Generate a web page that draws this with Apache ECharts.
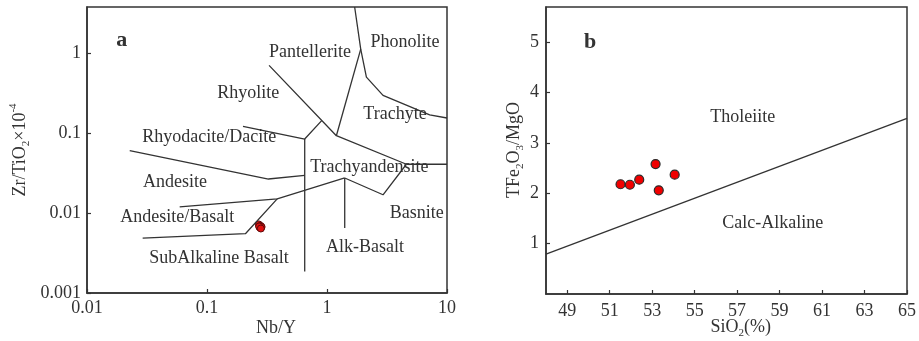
<!DOCTYPE html>
<html><head><meta charset="utf-8">
<script src="https://cdn.jsdelivr.net/npm/echarts@6/dist/echarts.min.js"></script>
<style>html,body{margin:0;padding:0;background:#fff}#c{width:919px;height:341px}</style>
</head><body><div id="c"></div>
<script>
// ---------- tick labels ----------
const nbYTicks = [0.01, 0.1, 1, 10];
const zrTiTicks = [0.001, 0.01, 0.1, 1];
const sio2Ticks = [49, 51, 53, 55, 57, 59, 61, 63, 65];
const ratioTicks = [1, 2, 3, 4, 5];

// ---------- panel a: field boundaries [Nb/Y, Zr/TiO2*1e-4] ----------
const lineA = [[1.70, 3.76], [1.91, 1.12], [2.13, 0.50], [2.93, 0.295], [7.17, 0.169], [10, 0.154]];
const lineB = [[1.91, 1.12], [1.197, 0.0925]];
const lineG = [[0.329, 0.70], [1.197, 0.0925], [4.59, 0.0407], [2.93, 0.0169], [1.405, 0.0274]];
const lineH = [[4.59, 0.0407], [10, 0.0407]];
const lineC = [[0.0592, 0.0119], [0.3846, 0.0150], [1.405, 0.0274]];
const lineD = [[0.3846, 0.0150], [0.209, 0.00551], [0.0291, 0.00484]];
const lineE = [[0.0227, 0.0601], [0.325, 0.0266], [0.652, 0.0295]];
const lineF = [[0.1995, 0.121], [0.652, 0.0841], [0.903, 0.143]];
const lineV1 = [[0.652, 0.0841], [0.652, 0.00186]];
const lineV2 = [[1.405, 0.0274], [1.405, 0.0065]];
const samplesA = [[0.270, 0.0072], [0.280, 0.0069], [0.275, 0.0066], [0.285, 0.0067], [0.272, 0.0068], [0.281, 0.0064]];

// ---------- panel b ----------
const boundaryB = [[48, 0.79], [65, 3.49]];
const samplesB = [[51.51, 2.18], [51.95, 2.17], [52.39, 2.27], [53.16, 2.58], [53.31, 2.06], [54.06, 2.37]];

const FONT = "'Liberation Serif','Times New Roman',serif";
const INK = '#333';

const chart = echarts.init(document.getElementById('c'));

function axisBase(extra) {
  return Object.assign({
    axisLine: { show: true, lineStyle: { color: INK, width: 1.5 } },
    axisTick: { show: true, inside: true, length: 4, lineStyle: { color: INK, width: 1.2 } },
    splitLine: { show: false },
    axisLabel: { color: INK, fontSize: 18, fontFamily: FONT }
  }, extra);
}

const boundaryStyle = { color: INK, width: 1.3 };
function bLine(data) {
  return { type: 'line', xAxisIndex: 0, yAxisIndex: 0, data: data, symbol: 'none', silent: true,
           lineStyle: boundaryStyle, animation: false };
}

const sub = { fontSize: 11, fontFamily: FONT, fill: INK, color: INK, verticalAlign: 'bottom', lineHeight: 12 };
const sup = { fontSize: 11, fontFamily: FONT, fill: INK, color: INK, verticalAlign: 'top', lineHeight: 12 };
const nrm = { fontSize: 18, fontFamily: FONT, fill: INK, color: INK, lineHeight: 24 };

function label(text, x, y, size, bold) {
  return { type: 'text', x: x, y: y, silent: true,
    style: { text: text, fill: INK, font: (bold ? 'bold ' : '') + size + 'px ' + FONT, align: 'center', verticalAlign: 'middle' } };
}

const option = {
  animation: false,
  backgroundColor: '#fff',
  grid: [
    { left: 87, top: 7, width: 360, height: 286, show: true, borderColor: INK, borderWidth: 1.5 },
    { left: 546, top: 7, width: 362, height: 287, show: true, borderColor: INK, borderWidth: 1.5 }
  ],
  xAxis: [
    axisBase({ type: 'log', logBase: 10, gridIndex: 0, min: 0.01, max: 10,
      axisTick: { show: true, inside: true, length: 4, lineStyle: { color: INK, width: 1.2 }, customValues: nbYTicks },
      axisLabel: { color: INK, fontSize: 18, fontFamily: FONT, margin: 6, customValues: nbYTicks, formatter: v => String(v) } }),
    axisBase({ type: 'value', gridIndex: 1, min: 48, max: 65,
      axisTick: { show: true, inside: true, length: 4, lineStyle: { color: INK, width: 1.2 }, customValues: sio2Ticks },
      axisLabel: { color: INK, fontSize: 18, fontFamily: FONT, margin: 8, customValues: sio2Ticks } })
  ],
  yAxis: [
    axisBase({ type: 'log', logBase: 10, gridIndex: 0, min: 0.001, max: 3.76,
      axisTick: { show: true, inside: true, length: 4, lineStyle: { color: INK, width: 1.2 }, customValues: zrTiTicks },
      axisLabel: { color: INK, fontSize: 18, fontFamily: FONT, margin: 6, customValues: zrTiTicks, formatter: v => String(v) } }),
    axisBase({ type: 'value', gridIndex: 1, min: 0, max: 5.7,
      axisTick: { show: true, inside: true, length: 4, lineStyle: { color: INK, width: 1.2 }, customValues: ratioTicks },
      axisLabel: { color: INK, fontSize: 18, fontFamily: FONT, margin: 7, customValues: ratioTicks } })
  ],
  series: [
    bLine(lineA), bLine(lineB), bLine(lineG), bLine(lineH), bLine(lineC),
    bLine(lineD), bLine(lineE), bLine(lineF), bLine(lineV1), bLine(lineV2),
    { type: 'scatter', xAxisIndex: 0, yAxisIndex: 0, data: samplesA, symbolSize: 7,
      itemStyle: { color: '#e01010', borderColor: '#5a0a0a', borderWidth: 1, opacity: 1 } },
    { type: 'line', xAxisIndex: 1, yAxisIndex: 1, data: boundaryB, symbol: 'none', silent: true,
      lineStyle: boundaryStyle },
    { type: 'scatter', xAxisIndex: 1, yAxisIndex: 1, data: samplesB, symbolSize: 9,
      itemStyle: { color: '#f00000', borderColor: '#2a2a2a', borderWidth: 1.2, opacity: 1 } }
  ],
  graphic: [
    label('a', 121.7, 40, 22, true),
    label('Phonolite', 405, 42, 18),
    label('Pantellerite', 310, 52.5, 18),
    label('Rhyolite', 248.3, 93, 18),
    label('Trachyte', 395, 114.5, 18),
    label('Rhyodacite/Dacite', 209.3, 137.5, 18),
    label('Trachyandensite', 369.3, 167, 18),
    label('Andesite', 175, 182, 18),
    label('Andesite/Basalt', 177.3, 217, 18),
    label('Basnite', 416.7, 213.5, 18),
    label('Alk-Basalt', 365, 247, 18),
    label('SubAlkaline Basalt', 219, 258, 18),
    label('Nb/Y', 276, 328, 18),
    { type: 'text', x: 20, y: 150, rotation: Math.PI / 2, silent: true,
      style: { text: '{n|Zr/TiO}{s|2}{n|×10}{p|-4}', rich: { n: nrm, s: sub, p: sup },
               align: 'center', verticalAlign: 'middle', fill: INK, font: '18px ' + FONT } },
    label('b', 590, 42, 22, true),
    label('Tholeiite', 742.7, 117, 18),
    label('Calc-Alkaline', 772.7, 223, 18),
    { type: 'text', x: 740.7, y: 327, silent: true,
      style: { text: '{n|SiO}{s|2}{n|(%)}', rich: { n: nrm, s: sub },
               align: 'center', verticalAlign: 'middle', fill: INK, font: '18px ' + FONT } },
    { type: 'text', x: 514, y: 150, rotation: Math.PI / 2, silent: true,
      style: { text: '{n|TFe}{s|2}{n|O}{s|3}{n|/MgO}', rich: { n: nrm, s: sub },
               align: 'center', verticalAlign: 'middle', fill: INK, font: '18px ' + FONT } }
  ]
};
chart.setOption(option);
</script>
</body></html>
